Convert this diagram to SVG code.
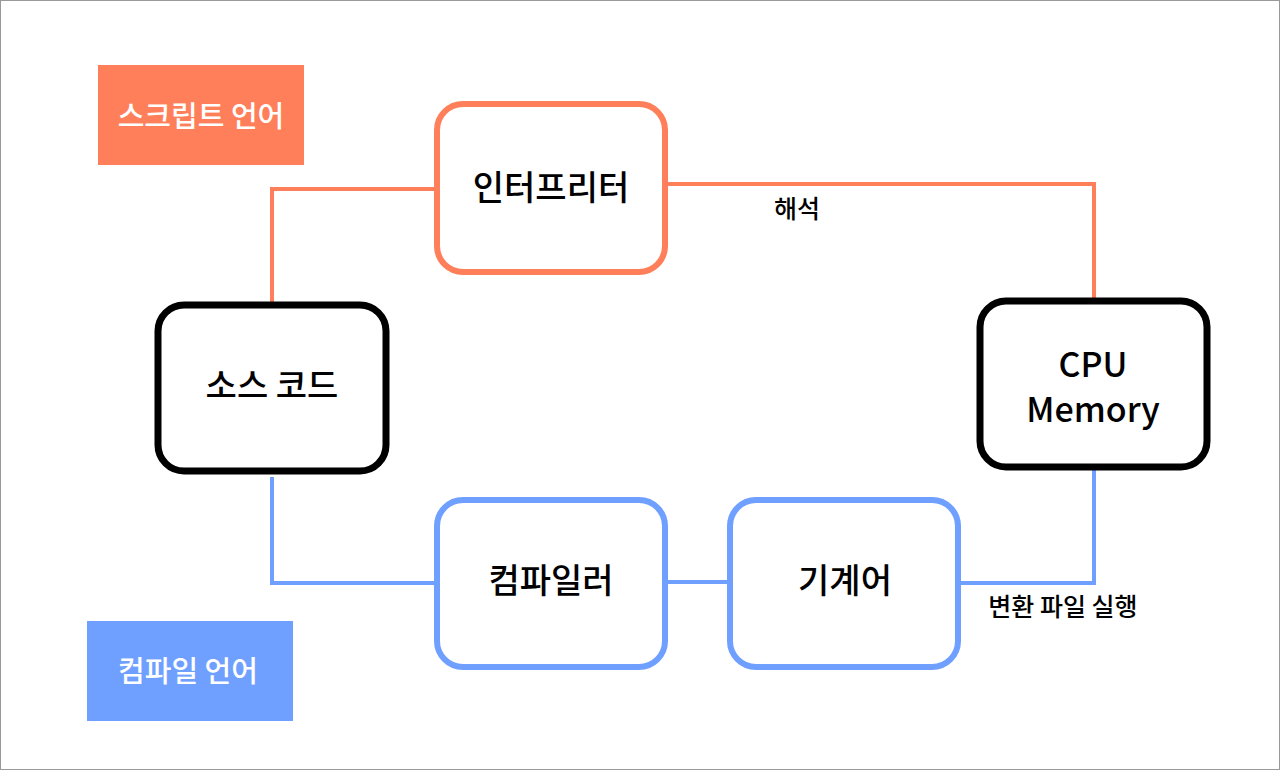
<svg xmlns="http://www.w3.org/2000/svg" width="1280" height="770" viewBox="0 0 1280 770">
<style>
.t{font-family:"Noto Sans CJK KR","Noto Sans",sans-serif;text-anchor:middle;dominant-baseline:central}
.big{font-size:34px;font-weight:500;fill:#000}
.lab{font-size:29px;font-weight:500;fill:#fff}
.small{font-size:25px;font-weight:500;fill:#000}
.node{fill:#fff;stroke-width:6}
.o{stroke:#FF7F5A}
.b{stroke:#6FA0FF}
.k{stroke:#000;stroke-width:7}
.c{fill:none;stroke-width:4}
</style>
<rect x="0.5" y="0.5" width="1279" height="769" fill="#fff" stroke="#999" stroke-width="1"/>
<g id="connectors">
<polyline class="c o" points="272,305 272,189 437,189"/>
<polyline class="c o" points="665,184 1094,184 1094,300"/>
<polyline class="c b" points="272,477 272,583 437,583"/>
<line class="c b" x1="665" y1="582" x2="730" y2="582"/>
<polyline class="c b" points="958,583 1094,583 1094,467"/>
<text class="t small" x="797" y="207">해석</text>
<text class="t small" x="1063" y="605">변환 파일 실행</text>
</g>
<g id="label-script">
<rect x="98" y="65" width="206" height="100" fill="#FF7F5A"/>
<text class="t lab" x="201" y="114">스크립트 언어</text>
</g>
<g id="label-compile">
<rect x="87" y="621" width="206" height="100" fill="#6FA0FF"/>
<text class="t lab" x="188" y="669">컴파일 언어</text>
</g>
<g id="interpreter">
<rect class="node o" x="437" y="104" width="228" height="168" rx="26"/>
<text class="t big" x="551" y="185">인터프리터</text>
</g>
<g id="source">
<rect class="node k" x="158" y="305" width="228" height="166" rx="26"/>
<text class="t big" x="272" y="383">소스 코드</text>
</g>
<g id="cpu">
<rect class="node k" x="980" y="301" width="227" height="166" rx="26"/>
<text class="t big" x="1093" y="362">CPU</text>
<text class="t big" x="1093" y="407">Memory</text>
</g>
<g id="compiler">
<rect class="node b" x="437" y="500" width="228" height="167" rx="26"/>
<text class="t big" x="551" y="578">컴파일러</text>
</g>
<g id="machine">
<rect class="node b" x="730" y="500" width="228" height="167" rx="26"/>
<text class="t big" x="845" y="578">기계어</text>
</g>
</svg>
